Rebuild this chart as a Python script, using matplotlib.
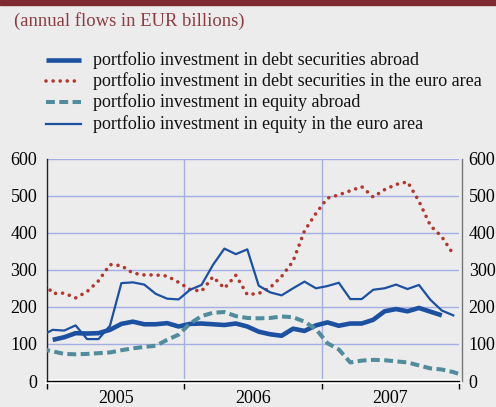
import numpy as np
import matplotlib
matplotlib.use("Agg")
import matplotlib.pyplot as plt
from matplotlib.lines import Line2D

# ---- data (monthly, month index 0 = Jan 2005; -1 and 36 are edge points, clipped) ----
months = np.arange(-1, 37)
nan = np.nan
debt_abroad = [nan, 111, 118, 129, 128, 129, 138, 154, 160, 153, 153, 156, 147,
               154, 155, 153, 151, 155, 147, 133, 126, 122, 141, 135, 150,
               158, 149, 155, 155, 165, 188, 194, 188, 197, 187, 177, nan, nan]
debt_euro = [275, 236, 237, 224, 241, 270, 314, 311, 291, 286, 286, 283, 266,
             247, 242, 281, 250, 285, 233, 236, 252, 282, 323, 405, 452,
             493, 502, 513, 524, 496, 516, 530, 537, 485, 419, 389, 342, nan]
equity_abroad = [86, 80, 73, 72, 73, 75, 77, 83, 88, 92, 95, 111, 125,
                 155, 175, 184, 186, 175, 170, 169, 170, 174, 172, 160, 140,
                 102, 85, 50, 55, 57, 56, 53, 50, 42, 34, 31, 24, 14]
equity_euro = [122, 138, 136, 150, 113, 113, 149, 264, 266, 260, 235, 222, 220,
               246, 259, 313, 357, 342, 355, 257, 239, 231, 250, 268, 250,
               256, 265, 221, 221, 246, 250, 260, 248, 259, 219, 190, 177, nan]
years = ["2005", "2006", "2007"]
yticks = [0, 100, 200, 300, 400, 500, 600]
labels = ["portfolio investment in debt securities abroad",
          "portfolio investment in debt securities in the euro area",
          "portfolio investment in equity abroad",
          "portfolio investment in equity in the euro area"]
title = "(annual flows in EUR billions)"

# ---- style ----
BG = "#ECECEC"
BLUE = "#1C50A0"
RED = "#B3372C"
TEAL = "#508C9C"
GRID = "#A3AEE2"
TITLE_C = "#8E3B40"
BAR_C = "#7D2A30"
plt.rcParams["font.family"] = ["Liberation Serif", "DejaVu Serif"]

W, H = 496, 407
fig = plt.figure(figsize=(W / 100, H / 100), dpi=100, facecolor=BG)

# top bar
fig.patches.append(plt.Rectangle((0, 1 - 5 / H), 1, 5 / H, transform=fig.transFigure,
                                 color=BAR_C, zorder=0))
fig.text(14 / W, 1 - 21 / H, title, color=TITLE_C, fontsize=13.4, va="center", ha="left")

styles = [
    dict(color=BLUE, lw=3.3, solid_capstyle="butt"),
    dict(color=RED, lw=2.6, linestyle=(0, (0.01, 1.95)), dash_capstyle="round"),
    dict(color=TEAL, lw=2.9, linestyle=(0, (2.2, 1.1)), dash_capstyle="butt"),
    dict(color=BLUE, lw=1.6),
]

# legend (manual)
rows_y = [60, 81, 102, 124]
for lab, st, yy in zip(labels, styles, rows_y):
    fy = 1 - yy / H
    fig.lines.append(Line2D([46 / W, 81 / W], [fy, fy], transform=fig.transFigure, **st))
    fig.text(93 / W, fy, lab, fontsize=13.0, va="center", ha="left", color="#111111")

ax = fig.add_axes([47 / W, 1 - 381 / H, (459 - 47) / W, (381 - 158.5) / H])
ax.set_facecolor(BG)
x = months + 0.5
series = [debt_abroad, debt_euro, equity_abroad, equity_euro]
for s, st in zip(series, styles):
    ax.plot(x, np.array(s, dtype=float), **st, zorder=3)

ax.set_xlim(0, 36)
ax.set_ylim(0, 600)
ax.set_yticks(yticks)
for yv in yticks[1:]:
    ax.axhline(yv, color=GRID, lw=1.0, zorder=1)
for xv in (12, 24):
    ax.axvline(xv, color=GRID, lw=1.0, zorder=1)

ax.tick_params(axis="y", which="both", length=0, labelsize=13, pad=7,
               left=True, right=False, labelleft=True, labelright=False)

# right-hand axis with the same scale
ax2 = ax.twinx()
ax2.set_ylim(ax.get_ylim())
ax2.set_yticks(yticks)
ax2.tick_params(axis="y", length=0, labelsize=13, pad=5)
for side in ("top", "left", "bottom"):
    ax2.spines[side].set_visible(False)
ax2.spines["right"].set_color("#777777")
ax2.spines["right"].set_linewidth(1.0)
ax2.spines["right"].set_position(("outward", 2))

ax.set_xticks([0, 12, 24, 36])
ax.set_xticklabels([])
ax.set_xticks([6, 18, 30], minor=True)
ax.set_xticklabels(years, minor=True)
ax.tick_params(axis="x", which="major", length=6, width=1, color="black", direction="out")
ax.tick_params(axis="x", which="minor", length=0, labelsize=13, pad=6.5)

ax.spines["top"].set_visible(False)
ax.spines["right"].set_visible(False)
ax.spines["left"].set_color("#222222")
ax.spines["left"].set_linewidth(1.0)
ax.spines["bottom"].set_color("black")
ax.spines["bottom"].set_linewidth(1.0)
ax.axhline(0, color="white", lw=3.5, zorder=2, clip_on=False)

fig.savefig("out.png", dpi=100, facecolor=BG)
